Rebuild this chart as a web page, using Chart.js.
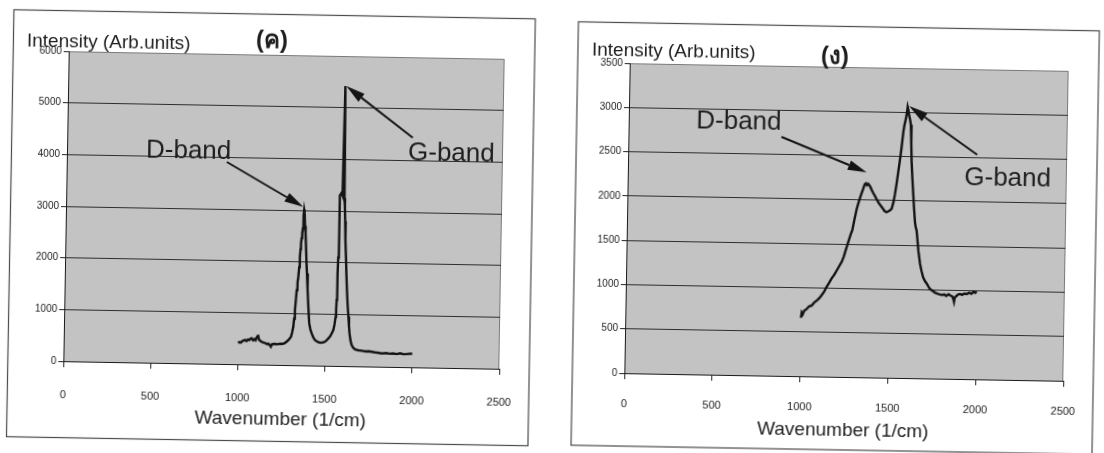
<!DOCTYPE html>
<html><head><meta charset="utf-8">
<script src="https://cdn.jsdelivr.net/npm/chart.js@4.4.1/dist/chart.umd.min.js"></script>
<style>
html,body{margin:0;padding:0;background:#fff;width:1104px;height:453px;overflow:hidden;}
.panel{position:absolute;top:0;width:552px;height:453px;}
#pl{left:0;transform-origin:284px 210px;transform:rotate(1deg);}
#pr{left:552px;transform-origin:294.5px 222px;transform:rotate(1deg);}
canvas{display:block;}
</style></head><body>
<div class="panel" id="pl"><canvas id="cl" width="552" height="453"></canvas></div>
<div class="panel" id="pr"><canvas id="cr" width="552" height="453"></canvas></div>
<script>
// ---------- data ----------
const xTicks = [0, 500, 1000, 1500, 2000, 2500];
const leftYTicks = [0, 1000, 2000, 3000, 4000, 5000, 6000];
const rightYTicks = [0, 500, 1000, 1500, 2000, 2500, 3000, 3500];
const panelTitles = ['(ค)', '(ง)'];
const yAxisTitle = 'Intensity (Arb.units)';
const xAxisTitle = 'Wavenumber (1/cm)';
const bandLabels = ['D-band', 'G-band'];

const leftWavenumbers = [1000,1008,1016,1024,1032,1040,1048,1056,1064,1072,1078,1086,1094,1100,1106,1111,1115,1120,1128,1135,1145,1155,1165,1173,1182,1188,1195,1210,1225,1240,1250,1265,1279,1292,1303,1309,1315,1319,1323,1327,1331,1335,1339,1343,1346,1349,1351,1354,1357,1360,1362,1364,1366,1369,1372,1376,1380,1384,1388,1393,1398,1402,1406,1413,1421,1430,1440,1455,1470,1485,1498,1512,1526,1536,1545,1551,1557,1559,1561,1563,1564,1566,1568,1569,1570,1578,1584,1590,1596,1599,1602,1605,1610,1614,1619,1624,1630,1634,1638,1644,1651,1660,1671,1690,1710,1730,1750,1767,1785,1800,1825,1850,1870,1890,1910,1930,1950,1970,1990,2000];
const leftIntensities = [410,430,420,450,460,470,450,480,470,500,505,470,490,470,520,550,555,480,460,440,430,420,400,410,380,350,400,405,400,410,406,420,453,500,550,640,745,900,1068,1260,1455,1600,1715,1900,2102,2250,2361,2460,2557,2650,2750,2900,3008,2950,2700,2557,2300,2000,1782,1480,1202,1000,815,700,621,550,494,460,443,450,464,510,565,630,695,800,952,1100,1275,1550,1792,2100,2437,2900,3300,3350,3300,5420,3250,3083,2800,2450,2117,1800,1473,1200,956,780,635,500,410,360,327,310,302,290,295,286,275,270,257,265,255,262,250,265,250,255,260,258];

const rightWavenumbers = [1000,1004,1010,1018,1032,1045,1060,1077,1090,1105,1116,1130,1142,1157,1171,1185,1199,1213,1227,1238,1248,1257,1266,1275,1284,1295,1307,1318,1330,1342,1350,1357,1363,1370,1380,1392,1400,1409,1420,1432,1444,1455,1466,1477,1488,1497,1506,1515,1523,1532,1540,1547,1554,1560,1565,1570,1575,1581,1587,1592,1597,1602,1607,1611,1615,1621,1628,1634,1640,1645,1650,1656,1662,1668,1673,1682,1692,1702,1713,1722,1732,1746,1761,1780,1800,1815,1825,1838,1850,1860,1866,1870,1874,1885,1895,1903,1915,1928,1941,1955,1968,1979,1990,1998];
const rightIntensities = [660,720,700,740,760,790,800,840,860,890,920,960,1010,1060,1110,1150,1200,1250,1300,1360,1430,1490,1550,1610,1660,1780,1900,1980,2060,2130,2180,2190,2170,2185,2160,2110,2080,2050,2010,1970,1940,1910,1880,1870,1880,1890,1910,1980,2070,2200,2330,2440,2560,2680,2780,2850,2900,2960,3060,3020,2960,2920,2860,2650,2440,2250,2060,1900,1760,1700,1670,1560,1440,1360,1290,1210,1140,1100,1070,1040,1010,990,970,955,945,950,935,955,940,930,900,870,920,940,955,960,950,965,960,975,965,985,975,990];

// ---------- helpers ----------
const FONT = "'Liberation Sans', Arial, 'DejaVu Sans', sans-serif";

function peakIndex(xs, ys, lo, hi) {
  let best = -1;
  for (let i = 0; i < xs.length; i++) {
    if (xs[i] >= lo && xs[i] <= hi && (best < 0 || ys[i] > ys[best])) best = i;
  }
  return best;
}

function drawArrow(ctx, x0, y0, x1, y1) {
  const ang = Math.atan2(y1 - y0, x1 - x0);
  const hl = 19, hw = 5;
  const bx = x1 - hl * Math.cos(ang), by = y1 - hl * Math.sin(ang);
  ctx.beginPath();
  ctx.moveTo(x0, y0);
  ctx.lineTo(bx, by);
  ctx.lineWidth = 2;
  ctx.strokeStyle = '#141414';
  ctx.stroke();
  ctx.beginPath();
  ctx.moveTo(x1, y1);
  ctx.lineTo(bx + hw * Math.sin(ang), by - hw * Math.cos(ang));
  ctx.lineTo(bx - hw * Math.sin(ang), by + hw * Math.cos(ang));
  ctx.closePath();
  ctx.fillStyle = '#141414';
  ctx.fill();
}

function makePanel(p) {
  const pts = p.xs.map((x, i) => ({x: x, y: p.ys[i]}));
  const panelPlugin = {
    id: 'panelDeco',
    beforeDraw(chart) {
      const ctx = chart.ctx, a = chart.chartArea;
      ctx.save();
      ctx.fillStyle = '#ffffff';
      ctx.fillRect(0, 0, chart.width, chart.height);
      ctx.strokeStyle = '#4a4a4a';
      ctx.lineWidth = 1.2;
      const f = p.frame;
      ctx.strokeRect(f[0], f[1], f[2] - f[0], f[3] - f[1]);
      ctx.fillStyle = '#c3c3c3';
      ctx.fillRect(a.left, a.top, a.right - a.left, a.bottom - a.top);
      ctx.strokeStyle = '#7a7a7a';
      ctx.lineWidth = 1;
      ctx.beginPath();
      ctx.moveTo(a.left, a.top + 0.5);
      ctx.lineTo(a.right - 0.5, a.top + 0.5);
      ctx.lineTo(a.right - 0.5, a.bottom);
      ctx.stroke();
      ctx.restore();
    },
    afterDraw(chart) {
      const ctx = chart.ctx, sx = chart.scales.x, sy = chart.scales.y;
      ctx.save();
      ctx.fillStyle = '#1e1e1e';
      ctx.textBaseline = 'alphabetic';
      ctx.textAlign = 'left';
      ctx.font = '19px ' + FONT;
      ctx.fillText(yAxisTitle, p.yLabel[0], p.yLabel[1]);
      ctx.textAlign = 'center';
      ctx.font = 'bold 24px ' + FONT;
      ctx.fillText(p.title, p.titlePos[0], p.titlePos[1]);
      ctx.textAlign = 'left';
      ctx.font = '26px ' + FONT;
      ctx.fillText(bandLabels[0], p.dLabel[0], p.dLabel[1]);
      ctx.fillText(bandLabels[1], p.gLabel[0], p.gLabel[1]);
      const di = peakIndex(p.xs, p.ys, 1250, 1450);
      const gi = peakIndex(p.xs, p.ys, 1500, 1700);
      drawArrow(ctx, p.dStart[0], p.dStart[1],
        sx.getPixelForValue(p.xs[di]) + p.dOff[0], sy.getPixelForValue(p.ys[di]) + p.dOff[1]);
      drawArrow(ctx, p.gStart[0], p.gStart[1],
        sx.getPixelForValue(p.xs[gi]) + p.gOff[0], sy.getPixelForValue(p.ys[gi]) + p.gOff[1]);
      ctx.restore();
    }
  };
  return new Chart(document.getElementById(p.canvas), {
    type: 'line',
    data: {datasets: [{
      data: pts, borderColor: '#141414', borderWidth: 2.4, pointRadius: 0,
      tension: 0, fill: false
    }]},
    options: {
      responsive: false, animation: false, devicePixelRatio: 1,
      layout: {padding: {left: 0, top: p.padTop, right: p.padRight, bottom: 0}},
      plugins: {legend: {display: false}, tooltip: {enabled: false}, title: {display: false}},
      scales: {
        x: {
          type: 'linear', min: 0, max: 2500,
          afterBuildTicks: s => { s.ticks = xTicks.map(v => ({value: v})); },
          afterFit: s => { s.height = p.xHeight; },
          ticks: {font: {size: 11, family: FONT}, color: '#222', padding: p.xTickPad, maxRotation: 0,
                  callback: v => String(v)},
          grid: {drawOnChartArea: false, drawTicks: true, tickLength: 6, tickColor: '#222', tickWidth: 1},
          border: {display: true, color: '#1a1a1a', width: 1},
          title: {display: true, text: xAxisTitle, font: {size: 19, family: FONT}, color: '#222',
                  padding: {top: 0, bottom: p.xTitlePad}}
        },
        y: {
          type: 'linear', min: 0, max: p.yMax,
          afterBuildTicks: s => { s.ticks = p.yTicks.map(v => ({value: v})); },
          afterFit: s => { s.width = p.yWidth; },
          ticks: {font: {size: 10, family: FONT}, color: '#222', padding: 2, callback: v => String(v)},
          grid: {
            color: c => (c.tick && c.tick.value === p.yMax) ? 'rgba(0,0,0,0)' : '#2e2e2e',
            lineWidth: 1, drawTicks: true, tickLength: 5, tickColor: '#222'
          },
          border: {display: true, color: '#1a1a1a', width: 1}
        }
      }
    },
    plugins: [panelPlugin]
  });
}

makePanel({
  canvas: 'cl', xs: leftWavenumbers, ys: leftIntensities, yTicks: leftYTicks, yMax: 6000,
  yWidth: 66, padTop: 55, padRight: 50, xHeight: 88, xTickPad: 21, xTitlePad: 22,
  frame: [10.5, 14.5, 532, 441.5],
  title: panelTitles[0], yLabel: [24, 50.5], titlePos: [269, 48],
  dLabel: [145, 159.5], dStart: [226, 163], dOff: [-1, -3],
  gLabel: [407, 158], gStart: [411.5, 135.5], gOff: [1, 0]
});
makePanel({
  canvas: 'cr', xs: rightWavenumbers, ys: rightIntensities, yTicks: rightYTicks, yMax: 3500,
  yWidth: 75, padTop: 67, padRight: 38, xHeight: 76, xTickPad: 18, xTitlePad: 10.5,
  frame: [23, 26.5, 544, 450],
  title: panelTitles[1], yLabel: [37, 60], titlePos: [280, 64],
  dLabel: [142.5, 130.5], dStart: [228, 138], dOff: [0.5, -11],
  gLabel: [411.5, 183], gStart: [424, 152.5], gOff: [1.5, -1]
});
</script>
</body></html>
